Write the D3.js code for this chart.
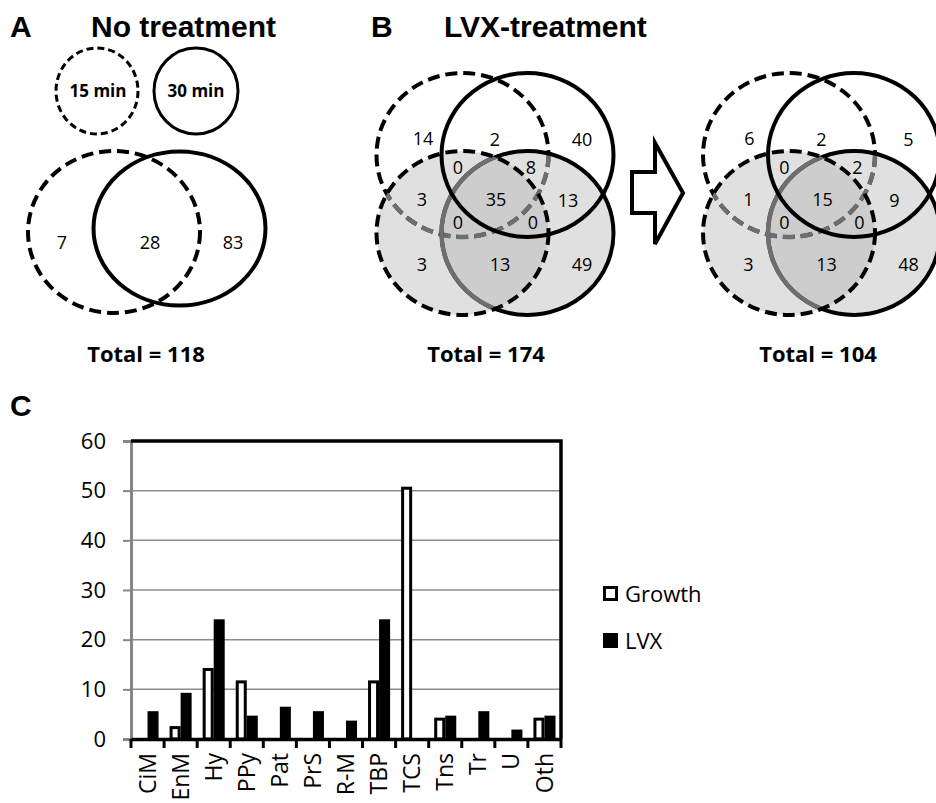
<!DOCTYPE html>
<html lang="en">

<head>
    <meta charset="UTF-8">
    <title>Venn diagrams and category bars</title>
    <style>
        body {
            margin: 0;
            padding: 0;
            background: #fff;
        }

        svg {
            display: block;
        }

        .title {
            font-family: "Liberation Sans", Arial, sans-serif;
            font-weight: bold;
            font-size: 30px;
        }

        .num {
            font-family: "Open Sans", sans-serif;
            font-size: 18px;
        }
    </style>
</head>

<body>

    <script src="https://d3js.org/d3.v7.min.js"></script>
    <script>
        // ---- data ----
        const groupsA = ['15 min', '30 min']
        // 15 min only, both, 30 min only
        const countsA = [7, 28, 83]

        // regions of the 4-set diagrams (TD = top dashed, TS = top solid, BD = bottom dashed, BS = bottom solid)
        const regionsB = ['TD', 'TD+TS', 'TS', 'TD+TS+BD', 'TD+TS+BS', 'TD+BD', 'all', 'TS+BS',
            'TD+BD+BS', 'TS+BD+BS', 'BD', 'BD+BS', 'BS']
        const countsBefore = [14, 2, 40, 0, 8, 3, 35, 13, 0, 0, 3, 13, 49]
        const countsAfter = [6, 2, 5, 0, 2, 1, 15, 9, 0, 0, 3, 13, 48]

        const totals = [118, 174, 104]

        const categories = ['CiM', 'EnM', 'Hy', 'PPy', 'Pat', 'PrS', 'R-M', 'TBP', 'TCS', 'Tns', 'Tr', 'U', 'Oth']
        const series = ['Growth', 'LVX']
        const growth = [0, 2.6, 14.3, 11.8, 0, 0, 0, 11.8, 50.8, 4.3, 0, 0, 4.3]
        const lvx = [5.6, 9.3, 24.1, 4.7, 6.5, 5.6, 3.7, 24.1, 0, 4.7, 5.6, 1.9, 4.7]
        const yTicks = [0, 10, 20, 30, 40, 50, 60]

        // ---- layout ----
        const width = 936
        const height = 803

        const svg = d3.select('body')
            .append('svg')
            .attr('width', width)
            .attr('height', height)

        const defs = svg.append('defs')

        // where region numbers sit, relative to the centre of a 4-set diagram
        const anchors = {
            'TD': [-72, -55], 'TD+TS': [0, -54], 'TS': [87, -54],
            'TD+TS+BD': [-37, -26], 'TD+TS+BS': [36, -26],
            'TD+BD': [-73, 6], 'all': [1, 6], 'TS+BS': [73, 7],
            'TD+BD+BS': [-37, 29], 'TS+BD+BS': [38, 29],
            'BD': [-73, 71], 'BD+BS': [5, 71], 'BS': [87, 71]
        }

        const dash = '12,6'
        const grayLine = '#6e6e6e'

        function txt(g, x, y, s, cls) {
            return g.append('text')
                .attr('x', x)
                .attr('y', y)
                .attr('class', cls)
                .text(s)
        }

        function ell(g, c, style) {
            const e = g.append('ellipse')
                .attr('cx', c.cx).attr('cy', c.cy)
                .attr('rx', c.rx).attr('ry', c.ry)
                .attr('fill', 'none')
            Object.entries(style).forEach(([k, v]) => e.attr(k, v))
            return e
        }

        // ---- headings ----
        txt(svg, 10, 37, 'A', 'title')
        txt(svg, 91, 37, 'No treatment', 'title')
        txt(svg, 371, 37, 'B', 'title')
        txt(svg, 444, 37, 'LVX-treatment', 'title')
        txt(svg, 10, 416, 'C', 'title')

        // ---- panel A ----
        const gA = svg.append('g')
        ell(gA, { cx: 97, cy: 91, rx: 41, ry: 43 }, { stroke: '#000', 'stroke-width': 3, 'stroke-dasharray': '7,4' })
        ell(gA, { cx: 196, cy: 91, rx: 42, ry: 43 }, { stroke: '#000', 'stroke-width': 3 })
        gA.selectAll('.lbl')
            .data(groupsA)
            .join('text')
            .attr('x', (d, i) => i === 0 ? 98 : 196)
            .attr('y', 91)
            .attr('dy', '0.35em')
            .attr('text-anchor', 'middle')
            .attr('font-family', 'Open Sans, sans-serif')
            .attr('font-weight', 'bold')
            .attr('font-size', 17)
            .text(d => d)

        ell(gA, { cx: 114, cy: 232, rx: 86, ry: 81 }, { stroke: '#000', 'stroke-width': 4, 'stroke-dasharray': dash })
        ell(gA, { cx: 179.5, cy: 228.5, rx: 86, ry: 77 }, { stroke: '#000', 'stroke-width': 4 })
        const posA = [62, 150, 233]
        gA.selectAll('.n')
            .data(countsA)
            .join('text')
            .attr('class', 'num')
            .attr('x', (d, i) => posA[i])
            .attr('y', 243)
            .attr('dy', '0.35em')
            .attr('text-anchor', 'middle')
            .text(d => d)

        // ---- panel B: two 4-set diagrams ----
        function fourSet(cx, cy, counts, id) {
            const g = svg.append('g')
            const rx = 86, ry = 82
            const TD = { cx: cx - 32.5, cy: cy - 39, rx, ry }
            const TS = { cx: cx + 32.5, cy: cy - 39, rx, ry }
            const BD = { cx: cx - 32.5, cy: cy + 39, rx, ry }
            const BS = { cx: cx + 32.5, cy: cy + 39, rx, ry }

            const cpBD = defs.append('clipPath').attr('id', 'bd' + id)
            ell(cpBD, BD, {})
            const cpBS = defs.append('clipPath').attr('id', 'bs' + id)
            ell(cpBS, BS, {})
            const cpU = defs.append('clipPath').attr('id', 'u' + id)
            ell(cpU, BD, {})
            ell(cpU, BS, {})

            // shading
            ell(g, BS, { fill: '#e0e0e0' })
            ell(g, BD, { fill: '#e0e0e0' })
            ell(g, BD, { fill: '#cdcdcd', 'clip-path': `url(#bs${id})` })

            // outlines
            ell(g, TD, { stroke: '#000', 'stroke-width': 4, 'stroke-dasharray': dash })
            ell(g, TD, { stroke: grayLine, 'stroke-width': 4.5, 'stroke-dasharray': dash, 'clip-path': `url(#u${id})` })
            ell(g, BS, { stroke: '#000', 'stroke-width': 4 })
            ell(g, BS, { stroke: grayLine, 'stroke-width': 4.5, 'clip-path': `url(#bd${id})` })
            ell(g, BD, { stroke: '#000', 'stroke-width': 4, 'stroke-dasharray': dash })
            ell(g, TS, { stroke: '#000', 'stroke-width': 4 })

            g.selectAll('.n')
                .data(counts)
                .join('text')
                .attr('class', 'num')
                .attr('x', (d, i) => cx + anchors[regionsB[i]][0])
                .attr('y', (d, i) => cy + anchors[regionsB[i]][1])
                .attr('dy', '0.35em')
                .attr('text-anchor', 'middle')
                .text(d => d)
        }

        fourSet(495, 194, countsBefore, 'L')
        fourSet(821.5, 194, countsAfter, 'R')

        // arrow between the two diagrams
        svg.append('path')
            .attr('d', 'M632,172 L655,172 L655,143 L683,193 L655,244 L655,213 L632,213 Z')
            .attr('fill', '#fff')
            .attr('stroke', '#000')
            .attr('stroke-width', 4)
            .attr('stroke-linejoin', 'miter')

        // totals
        const totalX = [146, 486, 818]
        svg.selectAll('.total')
            .data(totals)
            .join('text')
            .attr('x', (d, i) => totalX[i])
            .attr('y', 362)
            .attr('text-anchor', 'middle')
            .attr('font-family', 'Open Sans, sans-serif')
            .attr('font-weight', 'bold')
            .attr('font-size', 22)
            .text(d => `Total = ${d}`)

        // ---- panel C: bar chart ----
        const plot = { left: 131, right: 561, top: 441, bottom: 739 }

        const x = d3.scaleBand()
            .domain(categories)
            .range([plot.left, plot.right])
            .paddingInner(0)

        const xSub = d3.scaleBand()
            .domain(series)
            .range([0, x.bandwidth()])
            .paddingInner(0)
            .paddingOuter(0.5)

        const y = d3.scaleLinear()
            .domain([0, 60])
            .range([plot.bottom, plot.top])

        const gC = svg.append('g')

        // grid
        gC.selectAll('.grid')
            .data(yTicks.filter(t => t > 0 && t < 60))
            .join('line')
            .attr('x1', plot.left).attr('x2', plot.right)
            .attr('y1', d => y(d)).attr('y2', d => y(d))
            .attr('stroke', '#8c8c8c')
            .attr('stroke-width', 1.5)

        // bars
        const rows = categories.map((c, i) => ({ c, Growth: growth[i], LVX: lvx[i] }))
        series.forEach(s => {
            gC.selectAll('.bar-' + s)
                .data(rows.filter(r => r[s] > 0))
                .join('rect')
                .attr('x', d => x(d.c) + xSub(s) + 1.5)
                .attr('width', xSub.bandwidth() - 3)
                .attr('y', d => y(d[s]) + 1.5)
                .attr('height', d => y(0) - y(d[s]) - 1.5)
                .attr('fill', s === 'Growth' ? '#fff' : '#000')
                .attr('stroke', '#000')
                .attr('stroke-width', 3)
        })

        // left axis (gray)
        const yAxis = d3.axisLeft(y)
            .tickValues(yTicks)
            .tickSize(8)
            .tickPadding(17)
        const gy = gC.append('g')
            .attr('transform', `translate(${plot.left},0)`)
            .call(yAxis)
        gy.select('.domain').attr('stroke', '#868686').attr('stroke-width', 3)
        gy.selectAll('.tick line').attr('stroke', '#868686').attr('stroke-width', 2)
        gy.selectAll('.tick text')
            .attr('font-family', 'Open Sans, sans-serif')
            .attr('font-size', 22)
            .attr('fill', '#000')

        // frame: top and right
        gC.append('path')
            .attr('d', `M${plot.left},${plot.top} H${plot.right} V${plot.bottom}`)
            .attr('fill', 'none')
            .attr('stroke', '#000')
            .attr('stroke-width', 3.5)

        // bottom axis
        const xAxis = d3.axisBottom(x)
            .tickSize(0)
            .tickPadding(0)
        const gx = gC.append('g')
            .attr('transform', `translate(0,${plot.bottom})`)
            .call(xAxis)
        gx.select('.domain').attr('stroke', '#000').attr('stroke-width', 3.5)
        gx.selectAll('.tick text')
            .attr('font-family', 'Open Sans, sans-serif')
            .attr('font-size', 23)
            .attr('fill', '#000')
            .attr('text-anchor', 'end')
            .attr('transform', 'translate(0,14) rotate(-90)')
            .attr('dy', '0.35em')
            .attr('y', 0)
            .attr('x', 0)

        // boundary ticks between categories
        const edges = categories.map(c => x(c)).concat([plot.right])
        gC.selectAll('.xtick')
            .data(edges)
            .join('line')
            .attr('x1', d => d).attr('x2', d => d)
            .attr('y1', plot.bottom).attr('y2', plot.bottom + 9)
            .attr('stroke', '#000')
            .attr('stroke-width', 3)

        // legend
        const legendY = [586, 633]
        const lg = svg.append('g')
        lg.selectAll('rect')
            .data(series)
            .join('rect')
            .attr('x', 604.5)
            .attr('y', (d, i) => legendY[i] + 1.5)
            .attr('width', 12)
            .attr('height', 12)
            .attr('fill', d => d === 'Growth' ? '#fff' : '#000')
            .attr('stroke', '#000')
            .attr('stroke-width', 3)
        lg.selectAll('text')
            .data(series)
            .join('text')
            .attr('x', 625)
            .attr('y', (d, i) => legendY[i] + 16)
            .attr('font-family', 'Open Sans, sans-serif')
            .attr('font-size', 22)
            .text(d => d)
    </script>

</body>

</html>
